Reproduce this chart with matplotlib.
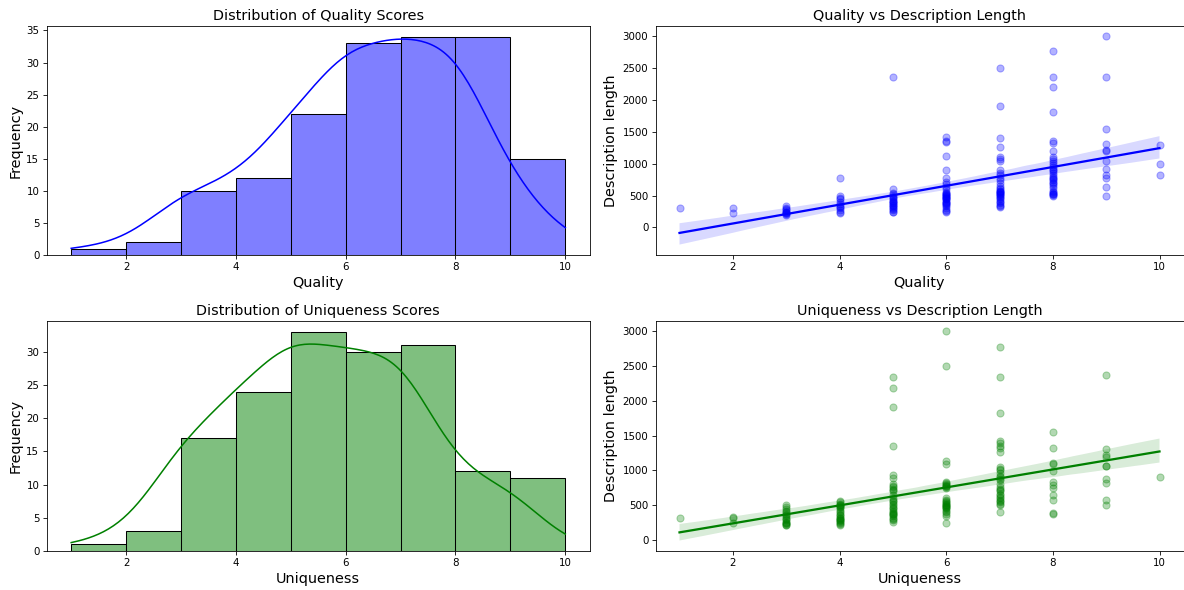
import numpy as np
import pandas as pd
import matplotlib
matplotlib.use("Agg")
import matplotlib.pyplot as plt
import seaborn as sns

# description lengths, grouped by score
quality_lengths = {
    1: [310],
    2: [310, 230],
    3: [330, 310, 290, 270, 250, 240, 230, 220, 210, 200],
    4: [770, 500, 460, 440, 400, 370, 340, 320, 300, 280, 250, 230],
    5: [2360, 610, 540, 520, 500, 480, 460, 440, 420, 410, 400, 390, 380, 360,
        350, 340, 320, 300, 290, 270, 250, 240],
    6: [1420, 1360, 1340, 1130, 910, 770, 720, 680, 640, 600, 560, 540, 530,
        520, 510, 500, 490, 480, 470, 460, 450, 440, 420, 400, 390, 380, 370,
        350, 330, 310, 280, 260, 240],
    7: [2500, 1910, 1410, 1270, 1100, 1070, 1050, 900, 860, 820, 780, 740, 700,
        650, 620, 600, 580, 570, 560, 550, 540, 530, 520, 510, 500, 480, 460,
        440, 420, 400, 380, 350, 330, 320],
    8: [2770, 2360, 2200, 1820, 1350, 1330, 1200, 1110, 1080, 1050, 1020, 980,
        950, 920, 900, 880, 860, 830, 800, 780, 760, 740, 720, 700, 680, 650,
        620, 580, 560, 540, 530, 520, 510, 500],
    9: [3000, 2370, 1540, 1310, 1220, 1200, 1040, 920, 820, 780, 640, 500],
    10: [1300, 1000, 820],
}

uniqueness_lengths = {
    1: [310],
    2: [330, 320, 240],
    3: [500, 480, 450, 420, 400, 380, 360, 340, 320, 300, 280, 260, 250, 240,
        230, 220, 210],
    4: [560, 540, 520, 510, 500, 490, 480, 470, 450, 420, 400, 380, 360, 340,
        320, 310, 300, 290, 280, 270, 260, 240, 230, 220],
    5: [2350, 2190, 1910, 1350, 940, 890, 800, 780, 760, 740, 720, 700, 640,
        600, 580, 560, 540, 520, 500, 480, 460, 440, 420, 400, 390, 380, 370,
        360, 340, 320, 300, 280, 260],
    6: [3000, 2500, 1130, 1090, 840, 820, 800, 790, 780, 770, 760, 750, 600,
        580, 560, 540, 530, 520, 510, 500, 490, 480, 470, 460, 440, 420, 400,
        370, 340, 250],
    7: [2770, 2350, 1820, 1420, 1400, 1350, 1330, 1270, 1050, 1020, 1000, 960,
        920, 900, 880, 860, 800, 760, 740, 720, 700, 660, 640, 620, 600, 580,
        560, 540, 520, 500, 400],
    8: [1550, 1320, 1110, 1100, 990, 840, 790, 750, 640, 570, 390, 370],
    9: [2380, 1310, 1220, 1200, 1060, 1060, 880, 820, 570, 500],
    10: [900],
}


def to_frame(groups, name):
    rows = [(k, v) for k, vals in groups.items() for v in vals]
    return pd.DataFrame(rows, columns=[name, "Description length"])


df_q = to_frame(quality_lengths, "Quality")
df_u = to_frame(uniqueness_lengths, "Uniqueness")

W, H = 1184, 590
fig = plt.figure(figsize=(W / 74, H / 74), dpi=74)


def px_axes(x0, x1, y0, y1):
    return fig.add_axes([x0 / W, 1 - y1 / H, (x1 - x0) / W, (y1 - y0) / H])


ax1 = px_axes(46.5, 590, 26, 255)
ax2 = px_axes(655.5, 1183.5, 26, 255)
ax3 = px_axes(46.5, 590, 321, 551)
ax4 = px_axes(655.5, 1183.5, 321, 551)

bins = np.arange(1, 11)

# histogramas
sns.histplot(df_q["Quality"], bins=bins, kde=True, color="blue", alpha=0.5,
             edgecolor="black", ax=ax1)
ax1.set_title("Distribution of Quality Scores", fontsize=14)
ax1.set_xlabel("Quality", fontsize=14)
ax1.set_ylabel("Frequency", fontsize=14)

sns.histplot(df_u["Uniqueness"], bins=bins, kde=True, color="green", alpha=0.5,
             edgecolor="black", ax=ax3)
ax3.set_title("Distribution of Uniqueness Scores", fontsize=14)
ax3.set_xlabel("Uniqueness", fontsize=14)
ax3.set_ylabel("Frequency", fontsize=14)

# regresiones
sns.regplot(data=df_q, x="Quality", y="Description length", color="blue",
            scatter_kws={"alpha": 0.3, "s": 48}, line_kws={"linewidth": 2.2},
            seed=0, ax=ax2)
ax2.set_title("Quality vs Description Length", fontsize=14)
ax2.set_xlabel("Quality", fontsize=14)
ax2.set_ylabel("Description length", fontsize=14)

sns.regplot(data=df_u, x="Uniqueness", y="Description length", color="green",
            scatter_kws={"alpha": 0.3, "s": 48}, line_kws={"linewidth": 2.2},
            seed=0, ax=ax4)
ax4.set_title("Uniqueness vs Description Length", fontsize=14)
ax4.set_xlabel("Uniqueness", fontsize=14)
ax4.set_ylabel("Description length", fontsize=14)

fig.savefig("out.png", dpi=74)
